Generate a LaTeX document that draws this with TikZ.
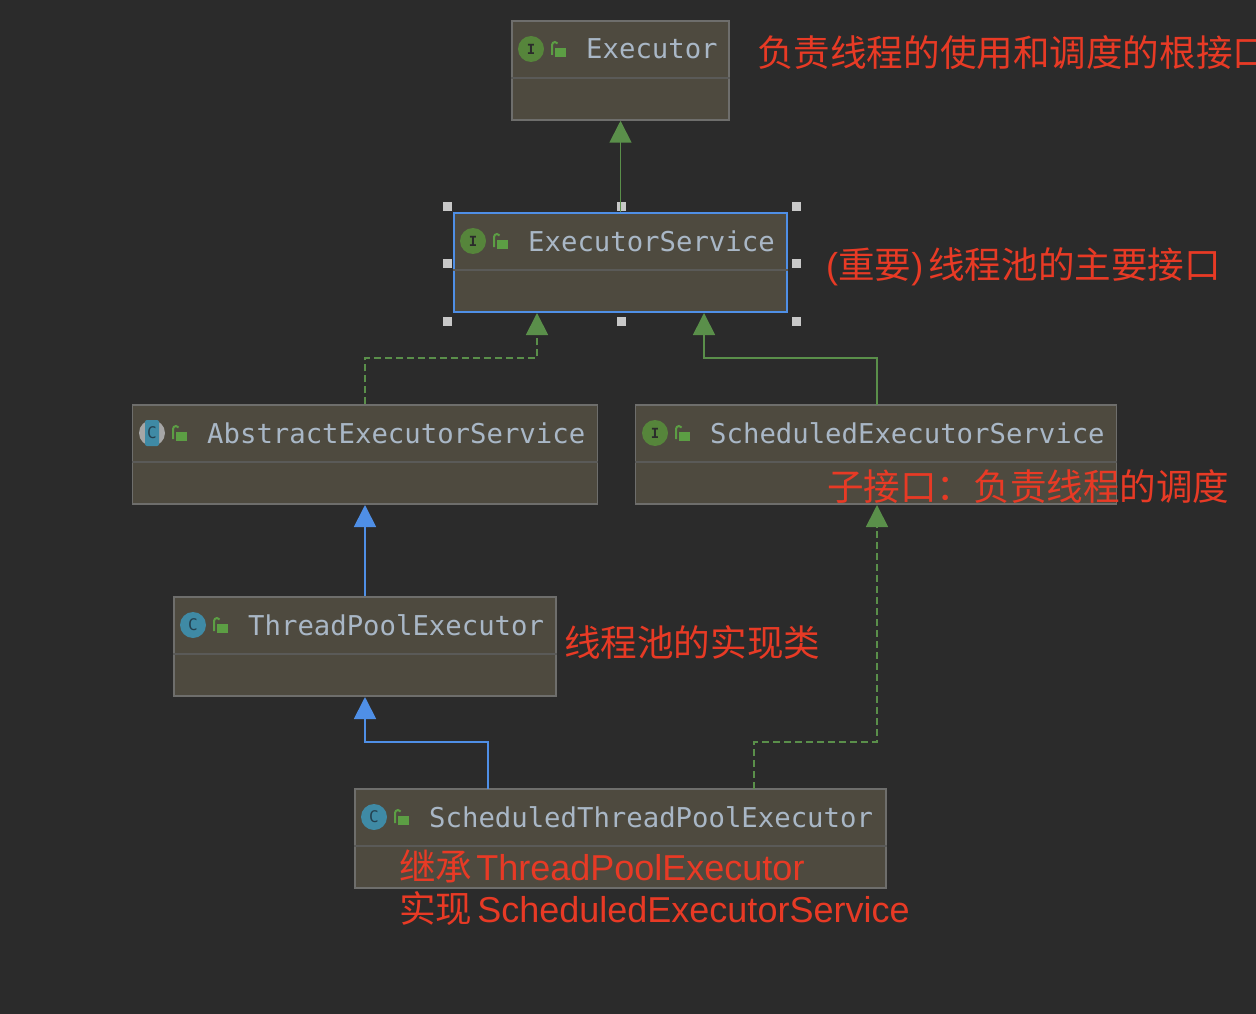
\documentclass[tikz,border=0pt]{standalone}
\usepackage{fontspec}
\setmainfont{Liberation Sans}
\setmonofont{DejaVu Sans Mono}
\newfontfamily\cjk[Scale=1.016]{Noto Sans CJK SC}
\usetikzlibrary{arrows.meta}
\definecolor{BackGray}{HTML}{2B2B2B}
\definecolor{BoxFill}{HTML}{4E4A3F}
\definecolor{BoxEdge}{HTML}{6E6E6C}
\definecolor{SplitGray}{HTML}{5A5A58}
\definecolor{LineGreen}{HTML}{5A8F4A}
\definecolor{LineBlue}{HTML}{4F8FE6}
\definecolor{NoteRed}{HTML}{E83A25}
\definecolor{TitleGray}{HTML}{A9B7C6}
\definecolor{IconGreen}{HTML}{56853B}
\definecolor{IconTeal}{HTML}{3F8AA5}
\definecolor{GlyphBlue}{HTML}{24404F}
\definecolor{LockGreen}{HTML}{5C9E44}
\definecolor{HandleGray}{HTML}{C8C8C8}
\begin{document}
\begin{tikzpicture}[x=1pt,y=-1pt,
  classbox/.style={draw=BoxEdge,fill=BoxFill,line width=1.5pt,inner sep=0pt,minimum height=99pt},
  chosenbox/.style={classbox,draw=LineBlue},
  classtitle/.style={anchor=base west,inner sep=0pt,text=TitleGray,font=\ttfamily\fontsize{27.3}{30}\selectfont},
  splitline/.style={draw=SplitGray,line width=1.5pt},
  note/.style={anchor=base west,inner sep=0pt,text=NoteRed,font=\fontsize{36}{40}\selectfont},
  handlemark/.style={fill=HandleGray,inner sep=0pt,minimum size=9pt},
  greenarrow/.style={-{Triangle[length=22pt,width=22pt,fill=LineGreen]},draw=LineGreen,line width=1.8pt},
  bluearrow/.style={-{Triangle[length=22pt,width=22pt,fill=LineBlue]},draw=LineBlue,line width=1.8pt},
  dashline/.style={dash pattern=on 7pt off 4pt},
  lockmark/.pic={
    \fill[LockGreen] (-4,-1) rectangle (7,8);
    \draw[LockGreen,line width=2pt] (-7,6) -- (-7,-4) arc[start angle=180,end angle=330,radius=3];
  },
  ifacemark/.pic={
    \fill[IconGreen] (0,0) circle (13);
    \node[inner sep=0pt,text=BackGray,font=\ttfamily\bfseries\fontsize{14}{14}\selectfont] (-glyph) at (0,0) {I};
    \pic at (28,0) {lockmark};
  },
  classmark/.pic={
    \fill[IconTeal] (0,0) circle (13);
    \node[inner sep=0pt,text=GlyphBlue,font=\ttfamily\fontsize{16}{16}\selectfont] (-glyph) at (0,0) {C};
    \pic at (28,0) {lockmark};
  },
  abstractmark/.pic={
    \fill[gray!70] (0,0) circle (13);
    \fill[IconTeal,rounded corners=2pt] (-7,-13) rectangle (7,13);
    \node[inner sep=0pt,text=GlyphBlue,font=\ttfamily\fontsize{16}{16}\selectfont] (-glyph) at (0,0) {C};
    \pic at (28,0) {lockmark};
  }]
\useasboundingbox (0,0) rectangle (1256,1014);
\clip (0,0) rectangle (1256,1014);
\fill[BackGray] (0,0) rectangle (1256,1014);
% selection handles
\foreach \hx/\hy [count=\i] in {447/206,621/206,796/206,447/263,796/263,447/321,621/321,796/321}
  \node[handlemark] (handle\i) at (\hx,\hy) {};
% class boxes
\node[classbox,minimum width=217pt] (executor) at (620.5,70.5) {};
\node[chosenbox,minimum width=333pt] (service) at (620.5,262.5) {};
\node[classbox,minimum width=465pt] (abstract) at (365,454.5) {};
\node[classbox,minimum width=481pt] (scheduled) at (876,454.5) {};
\node[classbox,minimum width=382pt] (pool) at (365,646.5) {};
\node[classbox,minimum width=531pt] (schedpool) at (620.5,838.5) {};
\draw[splitline] (executor.west |- 0,78) -- (executor.east |- 0,78);
\draw[splitline] (service.west |- 0,270) -- (service.east |- 0,270);
\draw[splitline] (abstract.west |- 0,462) -- (abstract.east |- 0,462);
\draw[splitline] (scheduled.west |- 0,462) -- (scheduled.east |- 0,462);
\draw[splitline] (pool.west |- 0,654) -- (pool.east |- 0,654);
\draw[splitline] (schedpool.west |- 0,846) -- (schedpool.east |- 0,846);
% icons and titles
\pic (executoricon) at (531,49) {ifacemark};
\pic (serviceicon) at (473,241) {ifacemark};
\pic (abstracticon) at (152,433) {abstractmark};
\pic (scheduledicon) at (655,433) {ifacemark};
\pic (poolicon) at (193,625) {classmark};
\pic (schedpoolicon) at (374,817) {classmark};
\node[classtitle] (executortitle) at (586,59) {Executor};
\node[classtitle] (servicetitle) at (528,251) {ExecutorService};
\node[classtitle] (abstracttitle) at (207,443) {AbstractExecutorService};
\node[classtitle] (scheduledtitle) at (710,443) {ScheduledExecutorService};
\node[classtitle] (pooltitle) at (248,635) {ThreadPoolExecutor};
\node[classtitle] (schedpooltitle) at (429,827) {ScheduledThreadPoolExecutor};
% connector ends
\coordinate (serviceleft) at (537,313);
\coordinate (serviceright) at (704,313);
\coordinate (abstractfoot) at (365,505);
\coordinate (scheduledfoot) at (877,505);
\coordinate (poolfoot) at (365,697);
\coordinate (schedpoolleft) at (488,789);
\coordinate (schedpoolright) at (754,789);
\coordinate (scheduledtop) at (877,405);
\draw[greenarrow] (service.north) -- (executor.south);
\draw[greenarrow,dashline] (abstract.north) |- (537,358) -- (serviceleft);
\draw[greenarrow] (scheduledtop) |- (704,358) -- (serviceright);
\draw[bluearrow] (pool.north) -- (abstractfoot);
\draw[bluearrow] (schedpoolleft) |- (365,742) -- (poolfoot);
\draw[greenarrow,dashline] (schedpoolright) |- (877,742) -- (scheduledfoot);
% notes
\node[note] (executornote) at (757,67) {\cjk 负责线程的使用和调度的根接口};
\node[note] (servicenote) at (826,278) {({\cjk 重要})\hspace{5pt}{\cjk 线程池的主要接口}};
\node[note] (schedulednote) at (827,500) {\cjk 子接口：负责线程的调度};
\node[note] (poolnote) at (564,656) {\cjk 线程池的实现类};
\node[note] (extendnote) at (399,880) {{\cjk 继承}\hspace{4pt}ThreadPoolExecutor};
\node[note] (implnote) at (399,922) {{\cjk 实现}\hspace{5pt}ScheduledExecutorService};
\end{tikzpicture}
\end{document}
